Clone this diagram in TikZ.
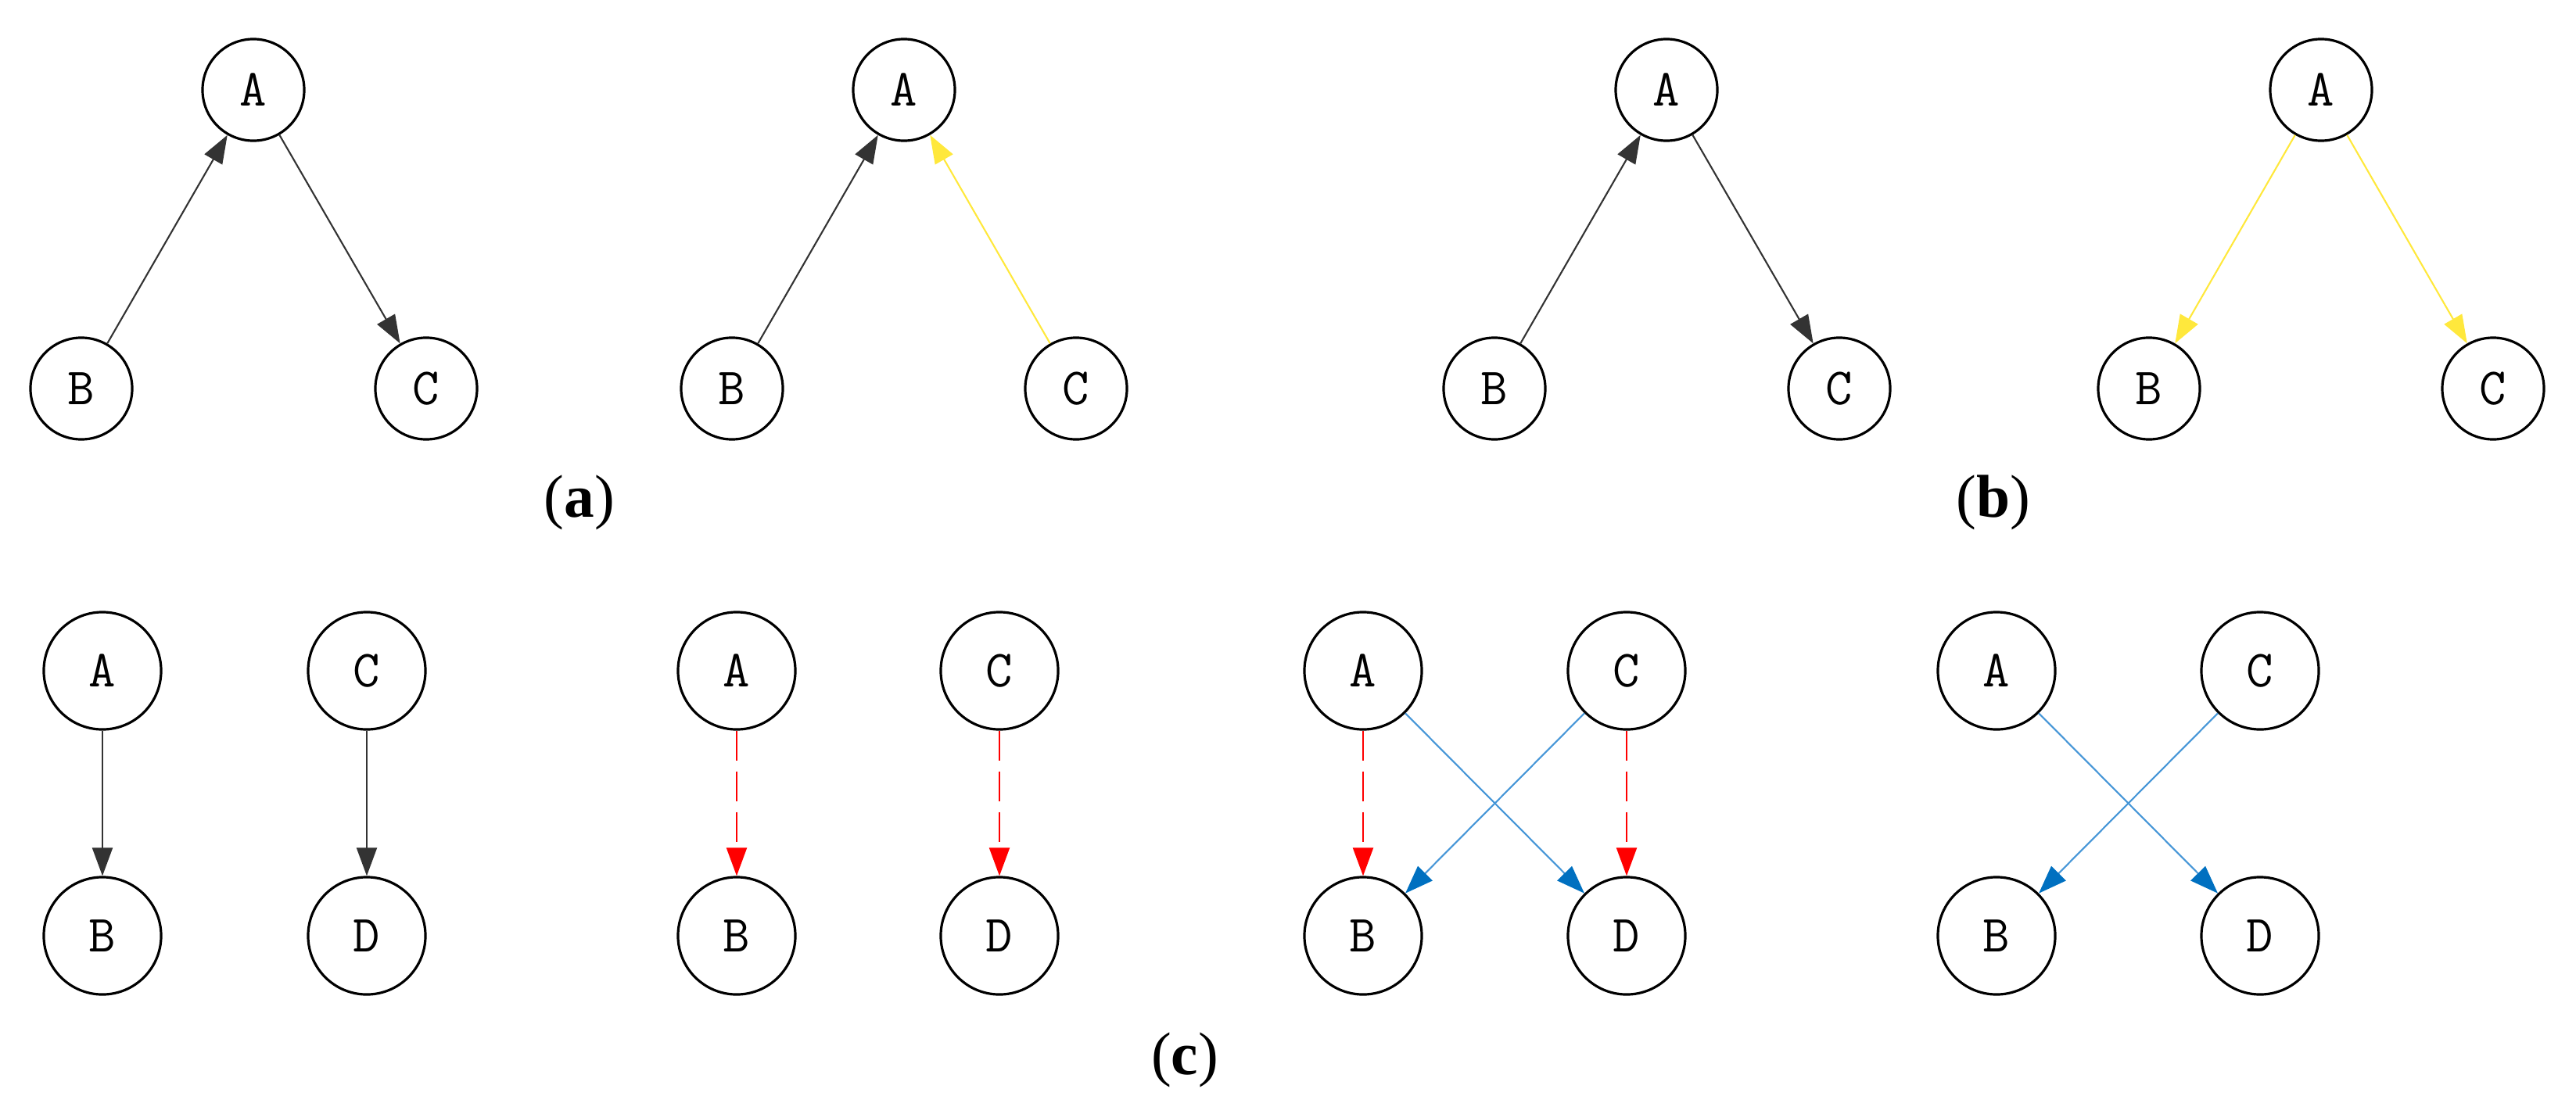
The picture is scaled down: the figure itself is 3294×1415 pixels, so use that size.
\documentclass[tikz,border=0pt]{standalone}
\usepackage{fontspec}
\setmainfont{Liberation Serif}
\usetikzlibrary{arrows.meta}
\definecolor{ylw}{RGB}{255,232,60}
\definecolor{blu}{RGB}{0,112,192}
\definecolor{blul}{RGB}{70,150,215}
\begin{document}
\begin{tikzpicture}[x=0.01cm,y=-0.01cm,
  nd/.style={circle,draw,line width=0.9pt,minimum size=1.3cm,inner sep=0pt,font=\ttfamily\fontsize{19}{19}\selectfont},
  ndb/.style={nd,minimum size=1.5cm},
  ar/.style={line width=0.6pt,-{Triangle[length=0.36cm,width=0.26cm]}},
  blk/.style={ar,black!80},
  yl/.style={ar,draw=ylw,fill=ylw},
  rd/.style={ar,red,dash pattern=on 0.38cm off 0.14cm},
  bl/.style={ar,draw=blul,-{Triangle[length=0.36cm,width=0.26cm,fill=blu,color=blu]}},
  lab/.style={font=\fontsize{22}{22}\selectfont}]
\useasboundingbox (0,0) rectangle (3294,1415);
% (a) left
\node[nd] (a1A) at (324,115) {A};
\node[nd] (a1B) at (104,497) {B};
\node[nd] (a1C) at (545,497) {C};
\draw[blk] (a1B) -- (a1A);
\draw[blk] (a1A) -- (a1C);
% (a) right
\node[nd] (a2A) at (1156,115) {A};
\node[nd] (a2B) at (936,497) {B};
\node[nd] (a2C) at (1376,497) {C};
\draw[blk] (a2B) -- (a2A);
\draw[yl] (a2C) -- (a2A);
\node[lab] (la) at (741,643) {(\textbf{a})};
% (b) left
\node[nd] (b1A) at (2131,115) {A};
\node[nd] (b1B) at (1911,497) {B};
\node[nd] (b1C) at (2352,497) {C};
\draw[blk] (b1B) -- (b1A);
\draw[blk] (b1A) -- (b1C);
% (b) right
\node[nd] (b2A) at (2968,115) {A};
\node[nd] (b2B) at (2748,497) {B};
\node[nd] (b2C) at (3188,497) {C};
\draw[yl] (b2A) -- (b2B);
\draw[yl] (b2A) -- (b2C);
\node[lab] (lb) at (2549,643) {(\textbf{b})};
% (c) 1
\node[ndb] (c1A) at (131,858) {A};
\node[ndb] (c1C) at (469,858) {C};
\node[ndb] (c1B) at (131,1197) {B};
\node[ndb] (c1D) at (469,1197) {D};
\draw[blk] (c1A) -- (c1B);
\draw[blk] (c1C) -- (c1D);
% (c) 2
\node[ndb] (c2A) at (942,858) {A};
\node[ndb] (c2C) at (1278,858) {C};
\node[ndb] (c2B) at (942,1197) {B};
\node[ndb] (c2D) at (1278,1197) {D};
\draw[rd] (c2A) -- (c2B);
\draw[rd] (c2C) -- (c2D);
% (c) 3
\node[ndb] (c3A) at (1743,858) {A};
\node[ndb] (c3C) at (2080,858) {C};
\node[ndb] (c3B) at (1743,1197) {B};
\node[ndb] (c3D) at (2080,1197) {D};
\draw[rd] (c3A) -- (c3B);
\draw[rd] (c3C) -- (c3D);
\draw[bl] (c3A) -- (c3D);
\draw[bl] (c3C) -- (c3B);
% (c) 4
\node[ndb] (c4A) at (2553,858) {A};
\node[ndb] (c4C) at (2890,858) {C};
\node[ndb] (c4B) at (2553,1197) {B};
\node[ndb] (c4D) at (2890,1197) {D};
\draw[bl] (c4A) -- (c4D);
\draw[bl] (c4C) -- (c4B);
\node[lab] (lc) at (1515,1356) {(\textbf{c})};
\end{tikzpicture}
\end{document}
